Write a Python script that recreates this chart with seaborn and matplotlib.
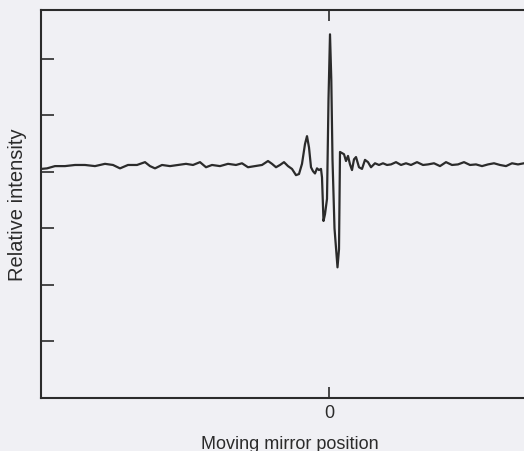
import matplotlib
matplotlib.use("Agg")
import matplotlib.pyplot as plt
import seaborn as sns
import pandas as pd

# Mirror position (arbitrary units, 0 = zero path difference)
position = [
    -2.88, -2.82, -2.74, -2.64, -2.54, -2.44, -2.34, -2.24, -2.16, -2.09,
    -2.01, -1.92, -1.84, -1.79, -1.74, -1.67, -1.59, -1.51, -1.43, -1.36,
    -1.29, -1.23, -1.17, -1.09, -1.01, -0.93, -0.87, -0.81, -0.74, -0.67,
    -0.61, -0.57, -0.53, -0.49, -0.45, -0.41, -0.37, -0.33, -0.30, -0.27,
    -0.24, -0.22, -0.20, -0.18, -0.16, -0.14, -0.12, -0.10, -0.08, -0.07,
    -0.055, -0.04, -0.02, -0.005, 0.01, 0.023, 0.035, 0.055, 0.085, 0.10,
    0.11, 0.13, 0.15, 0.17, 0.19, 0.21, 0.23, 0.25, 0.27, 0.30,
    0.33, 0.36, 0.39, 0.42, 0.46, 0.50, 0.54, 0.58, 0.62, 0.67,
    0.72, 0.77, 0.82, 0.88, 0.94, 0.99, 1.05, 1.11, 1.17, 1.23,
    1.29, 1.35, 1.41, 1.47, 1.53, 1.59, 1.65, 1.71, 1.77, 1.83,
    1.89, 1.95, 2.01,
]

# Relative intensity (arbitrary units)
intensity = [
    4.05, 4.06, 4.10, 4.10, 4.12, 4.12, 4.10, 4.14, 4.12, 4.06,
    4.12, 4.12, 4.17, 4.10, 4.06, 4.12, 4.10, 4.12, 4.14, 4.12,
    4.17, 4.08, 4.12, 4.10, 4.14, 4.12, 4.15, 4.08, 4.10, 4.12,
    4.19, 4.14, 4.08, 4.12, 4.17, 4.10, 4.05, 3.94, 3.96, 4.14,
    4.49, 4.63, 4.43, 4.08, 4.01, 3.97, 4.06, 4.03, 4.05, 3.90,
    3.13, 3.25, 3.52, 5.28, 6.43, 5.63, 4.22, 3.00, 2.31, 2.63,
    4.35, 4.33, 4.31, 4.19, 4.28, 4.13, 4.03, 4.22, 4.26, 4.08,
    4.05, 4.21, 4.17, 4.08, 4.15, 4.12, 4.15, 4.12, 4.13, 4.17,
    4.12, 4.15, 4.12, 4.17, 4.12, 4.13, 4.15, 4.10, 4.17, 4.12,
    4.13, 4.17, 4.12, 4.13, 4.10, 4.13, 4.15, 4.12, 4.10, 4.15,
    4.13, 4.15, 4.14,
]

x_ticks = [0]
x_tick_labels = ["0"]
y_ticks = [1, 2, 3, 4, 5, 6]

df = pd.DataFrame({"position": position, "intensity": intensity})

sns.set_theme(style="white")
plt.rcParams["font.family"] = ["Liberation Sans", "DejaVu Sans"]

bg = "#f0f0f4"
ink = "#2b2b2b"

fig = plt.figure(figsize=(5.24, 4.52), dpi=100, facecolor=bg)
ax = fig.add_axes([41 / 524, 53 / 452, 576 / 524, 388 / 452])
ax.set_facecolor(bg)

sns.lineplot(data=df, x="position", y="intensity", ax=ax, color=ink,
             linewidth=1.6, sort=False, estimator=None)

ax.set_xlim(-2.88, 2.88)
ax.set_ylim(0, 6.86)

for s in ax.spines.values():
    s.set_color(ink)
    s.set_linewidth(1.5)

ax.set_xticks(x_ticks)
ax.set_xticklabels(x_tick_labels, fontsize=13, color=ink)
ax.tick_params(axis="x", direction="in", length=8, width=1.2, color=ink,
               top=True, bottom=True, pad=4)
ax.set_yticks(y_ticks)
ax.set_yticklabels([])
ax.tick_params(axis="y", direction="in", length=9, width=1.2, color=ink,
               left=True, right=False)

ax.set_xlabel("Moving mirror position", fontsize=13, color=ink, va="center")
ax.xaxis.set_label_coords((290 - 41) / 576, (399 - 445) / 388)
ax.set_ylabel("Relative intensity", fontsize=14.5, color=ink, va="center")
ax.yaxis.set_label_coords((18 - 41) / 576, 0.5)

fig.savefig("out.png", dpi=100, facecolor=bg)
